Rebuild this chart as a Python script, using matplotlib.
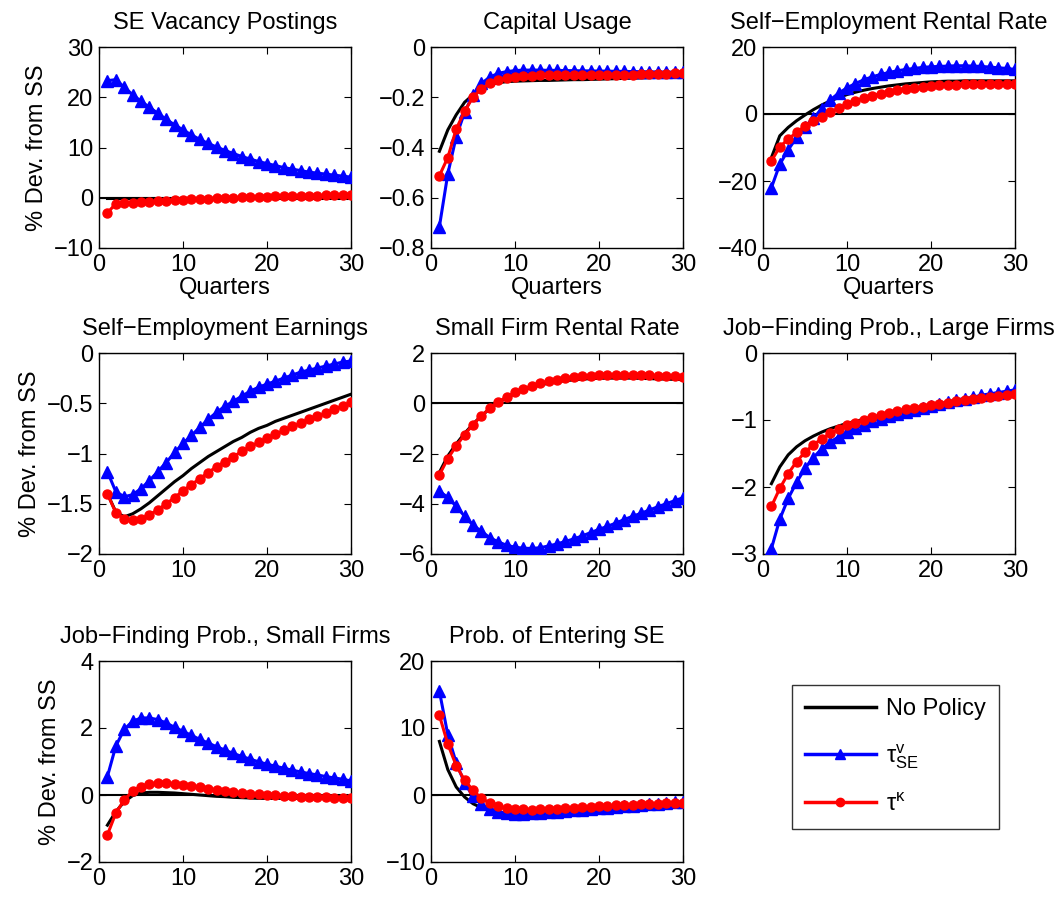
import matplotlib
matplotlib.use("Agg")
import matplotlib.pyplot as plt
from matplotlib.ticker import FuncFormatter
from matplotlib.lines import Line2D

plt.rcParams['font.family'] = ['Liberation Sans', 'DejaVu Sans']
plt.rcParams['mathtext.fontset'] = 'custom'
plt.rcParams['mathtext.rm'] = 'Liberation Sans'
plt.rcParams['mathtext.it'] = 'Liberation Sans'

quarters = list(range(1, 31))

titles = ["SE Vacancy Postings", "Capital Usage", "Self\u2212Employment Rental Rate",
          "Self\u2212Employment Earnings", "Small Firm Rental Rate", "Job\u2212Finding Prob., Large Firms",
          "Job\u2212Finding Prob., Small Firms", "Prob. of Entering SE"]

ylims = [(-10, 30), (-0.8, 0), (-40, 20), (-2, 0), (-6, 2), (-3, 0), (-2, 4), (-10, 20)]
ysteps = [10, 0.2, 20, 0.5, 2, 1, 2, 10]

# --- Panel 1: SE Vacancy Postings
vac_np = [0.0, 0.0, 0.0, 0.0, 0.0, 0.0, 0.0, 0.0, 0.0, 0.0, 0.0, 0.0, 0.0, 0.0, 0.0,
          0.0, 0.0, 0.0, 0.0, 0.0, 0.0, 0.0, 0.0, 0.0, 0.0, 0.0, 0.0, 0.0, 0.0, 0.0]
vac_se = [23.3, 23.5, 22.0, 20.5, 19.2, 18.0, 16.8, 15.6, 14.5, 13.5, 12.5, 11.6, 10.8, 10.1, 9.4,
          8.8, 8.2, 7.7, 7.2, 6.8, 6.4, 6.0, 5.7, 5.4, 5.1, 4.9, 4.7, 4.5, 4.3, 4.1]
vac_k = [-3.0, -1.2, -1.1, -1.0, -0.9, -0.8, -0.7, -0.6, -0.5, -0.4, -0.3, -0.25, -0.2, -0.1, -0.05,
         0.0, 0.05, 0.1, 0.15, 0.2, 0.25, 0.3, 0.33, 0.36, 0.4, 0.43, 0.46, 0.5, 0.53, 0.56]

# --- Panel 2: Capital Usage
cap_np = [-0.415, -0.33, -0.27, -0.22, -0.19, -0.165, -0.15, -0.142, -0.138, -0.136, -0.135, -0.134, -0.133, -0.133, -0.132,
          -0.131, -0.13, -0.13, -0.129, -0.128, -0.127, -0.126, -0.125, -0.124, -0.123, -0.122, -0.121, -0.12, -0.119, -0.118]
cap_se = [-0.715, -0.505, -0.357, -0.26, -0.19, -0.145, -0.12, -0.105, -0.098, -0.094, -0.092, -0.092, -0.092, -0.093, -0.093,
          -0.094, -0.094, -0.095, -0.095, -0.096, -0.096, -0.097, -0.097, -0.098, -0.098, -0.099, -0.099, -0.1, -0.1, -0.1]
cap_k = [-0.512, -0.44, -0.327, -0.255, -0.2, -0.166, -0.145, -0.132, -0.124, -0.119, -0.116, -0.114, -0.113, -0.112, -0.112,
         -0.112, -0.112, -0.112, -0.112, -0.112, -0.111, -0.111, -0.11, -0.11, -0.109, -0.108, -0.107, -0.106, -0.105, -0.104]

# --- Panel 3: Self-Employment Rental Rate
serr_np = [-13.0, -6.5, -4.0, -2.0, -0.3, 1.3, 2.7, 3.9, 4.9, 5.8, 6.5, 7.1, 7.6, 8.0, 8.4,
           8.7, 9.0, 9.2, 9.4, 9.6, 9.7, 9.8, 9.8, 9.9, 9.9, 9.9, 9.9, 9.9, 9.9, 9.9]
serr_se = [-22.0, -15.0, -10.7, -7.0, -4.0, -1.3, 1.6, 4.2, 6.2, 7.8, 9.1, 10.2, 11.1, 11.8, 12.4,
           12.9, 13.3, 13.6, 13.9, 14.1, 14.2, 14.3, 14.4, 14.4, 14.3, 14.2, 14.0, 13.8, 13.6, 13.3]
serr_k = [-14.0, -9.8, -7.5, -5.5, -3.6, -2.0, -0.8, 0.5, 1.8, 2.9, 3.9, 4.8, 5.5, 6.1, 6.6,
          7.1, 7.5, 7.8, 8.1, 8.4, 8.6, 8.7, 8.8, 8.9, 9.0, 9.0, 9.1, 9.1, 9.1, 9.1]

# --- Panel 4: Self-Employment Earnings
see_np = [-1.40, -1.58, -1.63, -1.60, -1.55, -1.49, -1.42, -1.35, -1.28, -1.22, -1.15, -1.09, -1.03, -0.98, -0.93,
          -0.88, -0.84, -0.79, -0.75, -0.72, -0.68, -0.65, -0.62, -0.59, -0.56, -0.53, -0.50, -0.47, -0.44, -0.41]
see_se = [-1.18, -1.38, -1.43, -1.41, -1.35, -1.27, -1.18, -1.09, -0.99, -0.90, -0.82, -0.74, -0.66, -0.59, -0.53,
          -0.48, -0.43, -0.38, -0.34, -0.31, -0.28, -0.25, -0.22, -0.19, -0.17, -0.15, -0.13, -0.11, -0.09, -0.08]
see_k = [-1.40, -1.59, -1.65, -1.66, -1.65, -1.61, -1.56, -1.50, -1.44, -1.37, -1.31, -1.25, -1.19, -1.13, -1.08,
         -1.03, -0.98, -0.93, -0.89, -0.85, -0.81, -0.77, -0.73, -0.70, -0.66, -0.63, -0.60, -0.56, -0.53, -0.49]

# --- Panel 5: Small Firm Rental Rate
sfr_np = [-2.75, -2.1, -1.62, -1.2, -0.83, -0.5, -0.22, 0.02, 0.22, 0.39, 0.53, 0.64, 0.73, 0.8, 0.86,
          0.9, 0.93, 0.96, 0.98, 0.99, 1.0, 1.0, 1.0, 1.0, 0.99, 0.98, 0.97, 0.96, 0.95, 0.94]
sfr_se = [-3.5, -3.75, -4.1, -4.5, -4.85, -5.1, -5.35, -5.52, -5.65, -5.73, -5.77, -5.78, -5.75, -5.68, -5.6,
          -5.5, -5.4, -5.28, -5.15, -5.02, -4.9, -4.77, -4.63, -4.5, -4.38, -4.25, -4.12, -4.0, -3.88, -3.76]
sfr_k = [-2.85, -2.2, -1.7, -1.25, -0.85, -0.5, -0.2, 0.05, 0.25, 0.43, 0.57, 0.69, 0.79, 0.87, 0.94,
         0.99, 1.03, 1.07, 1.09, 1.11, 1.12, 1.13, 1.13, 1.13, 1.12, 1.11, 1.10, 1.09, 1.07, 1.05]

# --- Panel 6: Job-Finding Prob., Large Firms
jfl_np = [-1.95, -1.70, -1.52, -1.40, -1.31, -1.24, -1.18, -1.13, -1.09, -1.05, -1.02, -0.99, -0.96, -0.93, -0.9,
          -0.87, -0.84, -0.82, -0.8, -0.78, -0.76, -0.74, -0.72, -0.7, -0.69, -0.67, -0.66, -0.64, -0.63, -0.61]
jfl_se = [-2.92, -2.48, -2.17, -1.93, -1.72, -1.56, -1.43, -1.33, -1.25, -1.18, -1.12, -1.07, -1.02, -0.98, -0.94,
          -0.91, -0.88, -0.85, -0.82, -0.79, -0.76, -0.73, -0.70, -0.68, -0.66, -0.63, -0.61, -0.59, -0.57, -0.55]
jfl_k = [-2.29, -2.02, -1.80, -1.62, -1.48, -1.37, -1.28, -1.20, -1.14, -1.08, -1.04, -1.0, -0.96, -0.93, -0.9,
         -0.87, -0.84, -0.82, -0.8, -0.78, -0.76, -0.74, -0.72, -0.7, -0.69, -0.67, -0.66, -0.64, -0.63, -0.61]

# --- Panel 7: Job-Finding Prob., Small Firms
jfs_np = [-0.9, -0.5, -0.2, -0.02, 0.06, 0.08, 0.08, 0.07, 0.06, 0.04, 0.02, 0.0, -0.02, -0.04, -0.05,
          -0.07, -0.08, -0.09, -0.1, -0.1, -0.1, -0.1, -0.1, -0.1, -0.1, -0.1, -0.1, -0.1, -0.1, -0.1]
jfs_se = [0.55, 1.46, 1.96, 2.2, 2.3, 2.3, 2.25, 2.15, 2.02, 1.9, 1.78, 1.66, 1.55, 1.44, 1.34,
          1.24, 1.15, 1.07, 0.99, 0.92, 0.86, 0.8, 0.74, 0.69, 0.64, 0.6, 0.55, 0.51, 0.47, 0.42]
jfs_k = [-1.19, -0.54, -0.15, 0.12, 0.25, 0.32, 0.35, 0.35, 0.33, 0.3, 0.27, 0.23, 0.19, 0.15, 0.12,
         0.09, 0.06, 0.04, 0.02, 0.0, -0.01, -0.03, -0.04, -0.05, -0.06, -0.07, -0.07, -0.08, -0.08, -0.09]

# --- Panel 8: Prob. of Entering SE
pse_np = [8.0, 3.8, 1.2, -0.3, -1.3, -1.9, -2.3, -2.6, -2.8, -2.9, -2.9, -2.85, -2.8, -2.7, -2.6,
          -2.5, -2.4, -2.3, -2.2, -2.1, -2.0, -1.9, -1.8, -1.7, -1.6, -1.5, -1.4, -1.3, -1.2, -1.1]
pse_se = [15.5, 9.0, 4.8, 1.8, -0.2, -1.4, -2.1, -2.5, -2.7, -2.8, -2.8, -2.75, -2.7, -2.6, -2.5,
          -2.4, -2.3, -2.2, -2.1, -2.0, -1.9, -1.8, -1.7, -1.6, -1.5, -1.4, -1.3, -1.2, -1.1, -1.0]
pse_k = [11.9, 7.6, 4.4, 2.2, 0.7, -0.5, -1.2, -1.7, -2.0, -2.1, -2.15, -2.2, -2.15, -2.1, -2.05,
         -2.0, -1.9, -1.85, -1.8, -1.7, -1.65, -1.55, -1.5, -1.45, -1.4, -1.35, -1.3, -1.25, -1.2, -1.15]

series = [
    (vac_np, vac_se, vac_k), (cap_np, cap_se, cap_k), (serr_np, serr_se, serr_k),
    (see_np, see_se, see_k), (sfr_np, sfr_se, sfr_k), (jfl_np, jfl_se, jfl_k),
    (jfs_np, jfs_se, jfs_k), (pse_np, pse_se, pse_k),
]

legend_labels = ["No Policy", r"$\mathrm{\tau}^{\mathrm{v}}_{\mathrm{SE}}$", r"$\mathrm{\tau}^{\mathrm{\kappa}}$"]

W, H = 1063, 898
fig = plt.figure(figsize=(W / 100, H / 100), dpi=100)

col_left = [99, 431, 763]
row_top = [47, 353, 661]
ax_w, ax_h = 252, 201

def fmt(v, pos):
    s = '%g' % round(v, 6)
    return s.replace('-', '\u2212')

for i, (title, (npv, sev, kv)) in enumerate(zip(titles, series)):
    r, c = divmod(i, 3)
    l = col_left[c] / W
    b = 1 - (row_top[r] + ax_h) / H
    ax = fig.add_axes([l, b, ax_w / W, ax_h / H])
    ax.axhline(0, color='black', lw=1.5, zorder=1)
    ax.plot(quarters, npv, color='black', lw=2.2, zorder=2)
    ax.plot(quarters, sev, color='#0000ff', lw=2.2, marker='^', ms=8, mfc='#0000ff', mec='#0000ff', zorder=3)
    ax.plot(quarters, kv, color='#ff0000', lw=2.2, marker='o', ms=6.5, mfc='#ff0000', mec='#ff0000', zorder=4)
    lo, hi = ylims[i]
    ax.set_ylim(lo, hi)
    ax.set_xlim(0, 30)
    st = ysteps[i]
    n = int(round((hi - lo) / st))
    ax.set_yticks([lo + k * st for k in range(n + 1)])
    ax.set_xticks([0, 10, 20, 30])
    ax.yaxis.set_major_formatter(FuncFormatter(fmt))
    ax.tick_params(direction='in', top=True, right=True, labelsize=17, length=5, width=0.8, pad=4)
    for sp in ax.spines.values():
        sp.set_linewidth(1.0)
    ax.set_title(title, fontsize=17, pad=13)
    if r == 0:
        ax.set_xlabel("Quarters", fontsize=17, labelpad=1)
    if c == 0:
        ax.set_ylabel("% Dev. from SS", fontsize=17, labelpad=4)

handles = [
    Line2D([], [], color='black', lw=2.5),
    Line2D([], [], color='#0000ff', lw=2.5, marker='^', ms=7),
    Line2D([], [], color='#ff0000', lw=2.5, marker='o', ms=6),
]
leg = fig.legend(handles, legend_labels, loc='upper left',
                 bbox_to_anchor=(792 / W, 1 - 685 / H), fontsize=17,
                 frameon=True, fancybox=False, edgecolor='black', handlelength=3.0,
                 borderpad=0.55, labelspacing=0.95, handletextpad=0.45, borderaxespad=0)
leg.get_frame().set_linewidth(1.0)

fig.savefig("out.png", dpi=100)
